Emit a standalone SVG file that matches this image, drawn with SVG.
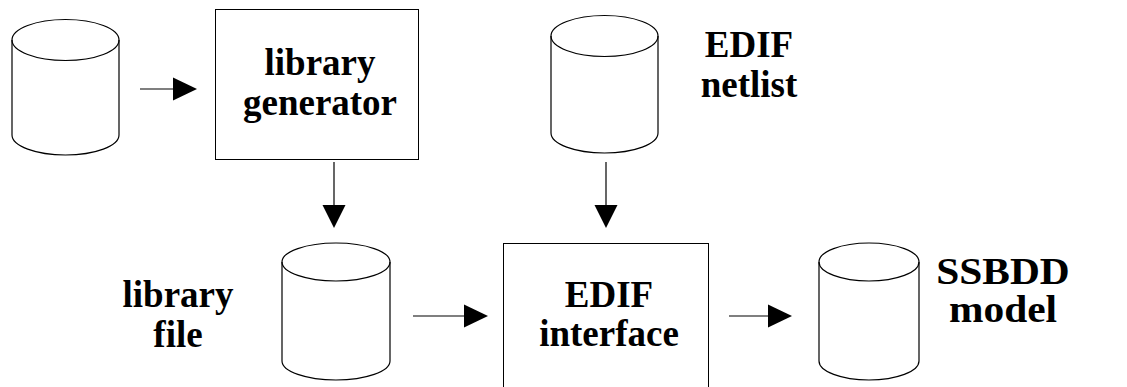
<svg xmlns="http://www.w3.org/2000/svg" width="1127" height="387" viewBox="0 0 1127 387">
  <defs>
    <style>
      .body { fill: #fff; stroke: #000; stroke-width: 1.2; }
      .lid { fill: none; stroke: #000; stroke-width: 1.2; }
      .box { fill: #fff; stroke: #000; stroke-width: 1; }
      .lbl { font-family: "Liberation Serif", "Times New Roman", serif; font-weight: bold; font-size: 37px; fill: #000; text-anchor: middle; }
      .wire { stroke: #000; stroke-width: 1.2; fill: none; }
      .head { fill: #000; stroke: none; }
    </style>
  </defs>
  <rect width="1127" height="387" fill="#fff"/>

  <!-- source database -->
  <g id="source-db">
    <path class="body" d="M12,40 V135 A53.5,20 0 0 0 119,135 V40"/>
    <ellipse class="lid" cx="65.5" cy="40" rx="53.5" ry="20.5"/>
  </g>

  <!-- library generator -->
  <g id="library-generator">
    <rect class="box" x="215.5" y="9.5" width="203" height="150"/>
    <text class="lbl" x="320" y="75">library</text>
    <text class="lbl" x="320" y="115">generator</text>
  </g>

  <!-- EDIF netlist -->
  <g id="edif-netlist">
    <path class="body" d="M551,36 V133 A53.5,20 0 0 0 658,133 V36"/>
    <ellipse class="lid" cx="604.5" cy="36" rx="53.5" ry="20.5"/>
    <text class="lbl" x="749" y="57">EDIF</text>
    <text class="lbl" x="749" y="97">netlist</text>
  </g>

  <!-- library file -->
  <g id="library-file">
    <path class="body" d="M282,262 V361 A54,19 0 0 0 390,361 V262"/>
    <ellipse class="lid" cx="336" cy="262" rx="54" ry="19"/>
    <text class="lbl" x="178" y="307">library</text>
    <text class="lbl" x="178" y="347">file</text>
  </g>

  <!-- EDIF interface -->
  <g id="edif-interface">
    <rect class="box" x="503.5" y="243.5" width="205" height="160"/>
    <text class="lbl" x="609" y="307">EDIF</text>
    <text class="lbl" x="609" y="346">interface</text>
  </g>

  <!-- SSBDD model -->
  <g id="ssbdd-model">
    <path class="body" d="M819,262 V361 A50,19 0 0 0 919,361 V262"/>
    <ellipse class="lid" cx="869" cy="262" rx="50" ry="19"/>
    <g transform="translate(1003,0) scale(1.12,1)">
      <text class="lbl" x="0" y="284">SSBDD</text>
      <text class="lbl" x="0" y="322">model</text>
    </g>
  </g>

  <!-- connectors -->
  <g id="connectors">
    <line class="wire" x1="140" y1="89" x2="175" y2="89"/>
    <polygon class="head" points="173,77.5 197,89 173,100.5"/>

    <line class="wire" x1="334" y1="162" x2="334" y2="206"/>
    <polygon class="head" points="322.5,205 345.5,205 334,228"/>

    <line class="wire" x1="606" y1="162" x2="606" y2="206"/>
    <polygon class="head" points="594.5,205 617.5,205 606,228"/>

    <line class="wire" x1="413" y1="316" x2="466" y2="316"/>
    <polygon class="head" points="464,304.5 488,316 464,327.5"/>

    <line class="wire" x1="729" y1="316" x2="770" y2="316"/>
    <polygon class="head" points="768,304.5 792,316 768,327.5"/>
  </g>
</svg>
